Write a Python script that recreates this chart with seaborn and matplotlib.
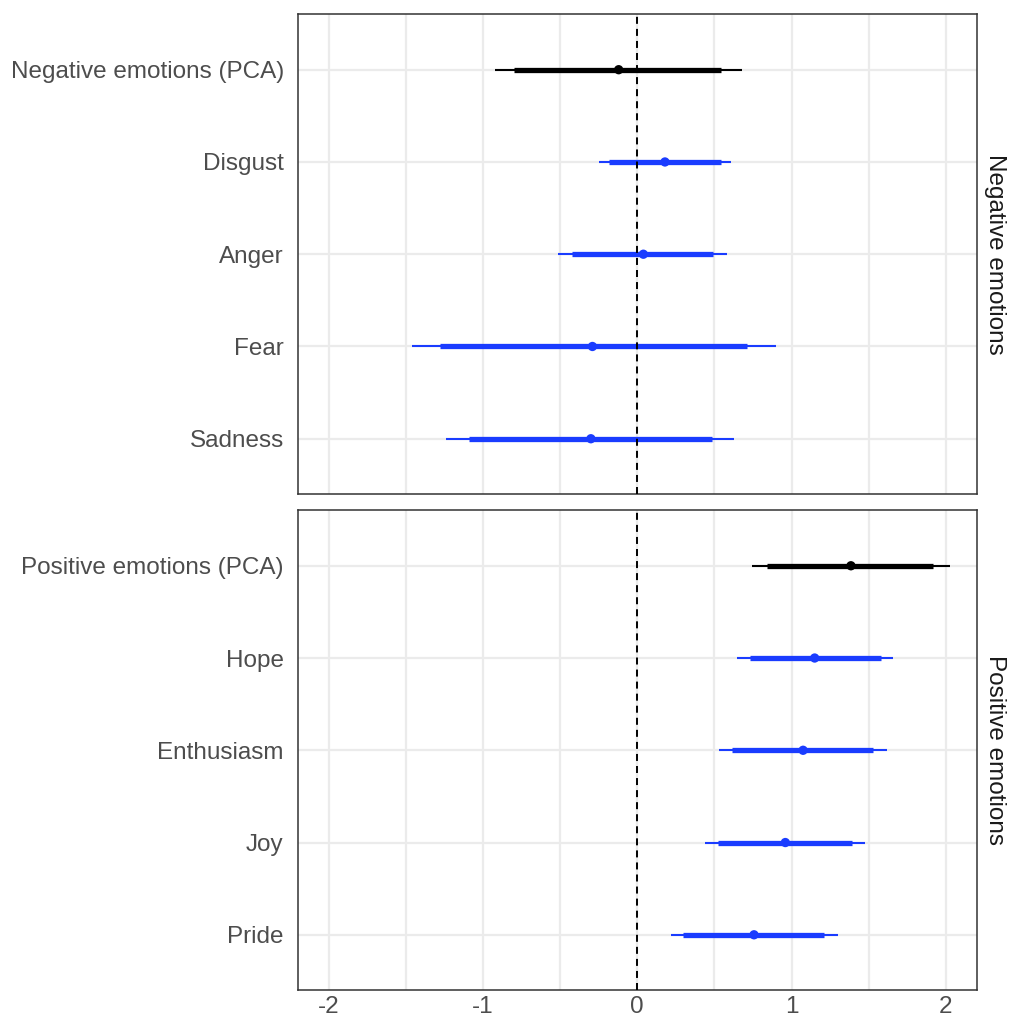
import numpy as np
import pandas as pd
import matplotlib.pyplot as plt
import seaborn as sns

# values (estimate, 66% and 95% intervals)
neg_labels = ["Negative emotions (PCA)", "Disgust", "Anger", "Fear", "Sadness"]
neg_est = [-0.12, 0.18, 0.04, -0.29, -0.30]
neg_lo95 = [-0.92, -0.25, -0.51, -1.46, -1.24]
neg_hi95 = [0.68, 0.61, 0.58, 0.90, 0.63]
neg_lo66 = [-0.80, -0.18, -0.42, -1.275, -1.09]
neg_hi66 = [0.545, 0.54, 0.49, 0.71, 0.485]

pos_labels = ["Positive emotions (PCA)", "Hope", "Enthusiasm", "Joy", "Pride"]
pos_est = [1.385, 1.15, 1.075, 0.96, 0.757]
pos_lo95 = [0.745, 0.65, 0.53, 0.44, 0.22]
pos_hi95 = [2.03, 1.66, 1.62, 1.475, 1.30]
pos_lo66 = [0.84, 0.73, 0.615, 0.525, 0.30]
pos_hi66 = [1.92, 1.58, 1.53, 1.39, 1.21]

panels = ["Negative emotions", "Positive emotions"]

BLUE = "#1a3cff"


def make_df(labels, est, lo95, hi95, lo66, hi66, panel):
    df = pd.DataFrame({"term": labels, "estimate": est,
                       "lo95": lo95, "hi95": hi95, "lo66": lo66, "hi66": hi66})
    df["panel"] = panel
    # first row is the PCA index, drawn in black
    df["kind"] = ["pca"] + ["item"] * (len(labels) - 1)
    df["pos"] = np.arange(len(labels))[::-1] + 1
    return df


data = pd.concat([
    make_df(neg_labels, neg_est, neg_lo95, neg_hi95, neg_lo66, neg_hi66, panels[0]),
    make_df(pos_labels, pos_est, pos_lo95, pos_hi95, pos_lo66, pos_hi66, panels[1]),
])

sns.set_theme(style="whitegrid")
plt.rcParams["font.family"] = ["Liberation Sans", "DejaVu Sans"]

fig, axes = plt.subplots(2, 1, figsize=(10.09, 10.25), dpi=100, sharex=True)
fig.subplots_adjust(left=0.295, right=0.968, top=0.986, bottom=0.034, hspace=0.034)

palette = {"pca": "black", "item": BLUE}

for ax, panel in zip(axes, panels):
    df = data[data.panel == panel]
    for kind, sub in df.groupby("kind"):
        col = palette[kind]
        ax.hlines(sub.pos, sub.lo95, sub.hi95, color=col, lw=1.5, zorder=3)
        ax.hlines(sub.pos, sub.lo66, sub.hi66, color=col, lw=3.8, zorder=3)
    sns.scatterplot(data=df, x="estimate", y="pos", hue="kind", palette=palette,
                    s=45, edgecolor="none", legend=False, ax=ax, zorder=4)
    ax.axvline(0, color="black", ls=(0, (3.6, 2.6)), lw=1.4, zorder=5)

    ax.set_ylim(0.4, 5.6)
    ax.set_yticks(df.pos)
    ax.set_yticklabels(df.term)
    ax.set_xlim(-2.2, 2.2)
    ax.set_xticks([-2, -1, 0, 1, 2])
    ax.set_xticks([-1.5, -0.5, 0.5, 1.5], minor=True)
    ax.set_xticklabels(["-2", "-1", "0", "1", "2"])
    ax.set_xlabel("")
    ax.set_ylabel("")
    ax.grid(True, which="major", color="#ebebeb", lw=1.6)
    ax.grid(True, which="minor", axis="x", color="#ebebeb", lw=1.6)
    ax.tick_params(axis="both", which="major", labelsize=17.5, labelcolor="#4d4d4d",
                   length=4, width=1, color="#333333")
    ax.tick_params(axis="y", which="major", pad=6)
    ax.tick_params(axis="x", which="major", pad=0)
    ax.tick_params(axis="x", which="minor", length=0)
    for sp in ax.spines.values():
        sp.set_visible(True)
        sp.set_color("#333333")
        sp.set_linewidth(1.1)
    ax.text(1.01, 0.5, panel, transform=ax.transAxes, rotation=270,
            ha="left", va="center", fontsize=17.5, color="#1a1a1a")

fig.savefig("out.png", dpi=100)
